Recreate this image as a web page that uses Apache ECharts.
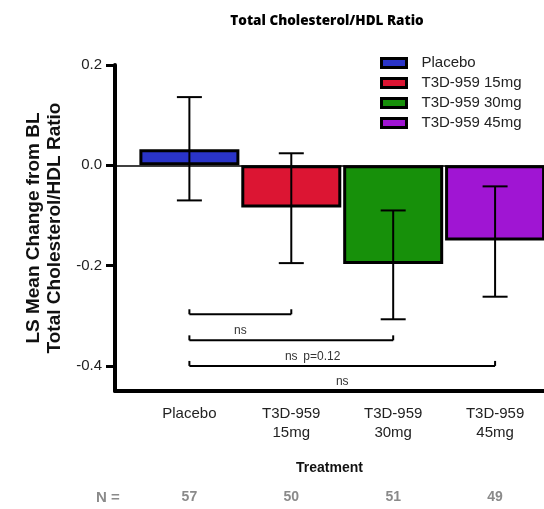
<!DOCTYPE html>
<html>
<head>
<meta charset="utf-8">
<script src="https://cdn.jsdelivr.net/npm/echarts@6/dist/echarts.min.js"></script>
<style>
  html, body { margin: 0; padding: 0; background: #fff; }
  #chart { width: 544px; height: 509px; }
</style>
</head>
<body>
<div id="chart"></div>
<script>
// Treatment groups and their LS mean change from baseline
const categories = ['Placebo', 'T3D-959\n15mg', 'T3D-959\n30mg', 'T3D-959\n45mg'];
const legendNames = ['Placebo', 'T3D-959 15mg', 'T3D-959 30mg', 'T3D-959 45mg'];
const groupPos = [1, 2, 3, 4];
const lsMean = [0.032, -0.084, -0.197, -0.150];
const errLow = [-0.070, -0.195, -0.307, -0.262];
const errHigh = [0.136, 0.024, -0.090, -0.042];
const nCounts = [57, 50, 51, 49];
const barColors = ['#2a34c8', '#dc1533', '#17900a', '#a015d3'];
const yTicks = [-0.4, -0.2, 0.0, 0.2];

// Pairwise comparisons vs placebo: [from, to, bracket level, label, note]
const cmpFrom = [1, 1, 1];
const cmpTo = [2, 3, 4];
const cmpLevel = [-0.297, -0.349, -0.400];
const cmpLabel = ['ns', 'ns', 'ns'];
const cmpNote = ['', 'p=0.12', ''];

const FONT = '"Liberation Sans", Arial, sans-serif';

const chart = echarts.init(document.getElementById('chart'), null, { renderer: 'canvas' });

const barSeries = legendNames.map((name, i) => ({
  name: name,
  type: 'bar',
  xAxisIndex: 0,
  barWidth: 100,
  barGap: '-100%',
  data: [[groupPos[i], lsMean[i]]],
  itemStyle: { color: barColors[i], borderColor: '#000', borderWidth: 3 },
  z: 2
}));

// zero reference line
barSeries[0].markLine = {
  silent: true,
  symbol: 'none',
  label: { show: false },
  lineStyle: { color: '#000', width: 1.5, type: 'solid' },
  data: [{ yAxis: 0 }],
  z: 1
};

const errorSeries = {
  type: 'custom',
  xAxisIndex: 0,
  z: 5,
  silent: true,
  data: groupPos.map((x, i) => [x, errLow[i], errHigh[i]]),
  renderItem: function (params, api) {
    const x = api.value(0);
    const lo = api.coord([x, api.value(1)]);
    const hi = api.coord([x, api.value(2)]);
    const half = 12.5;
    const style = { stroke: '#000', lineWidth: 2 };
    return {
      type: 'group',
      children: [
        { type: 'line', shape: { x1: lo[0], y1: lo[1], x2: hi[0], y2: hi[1] }, style: style },
        { type: 'line', shape: { x1: lo[0] - half, y1: lo[1], x2: lo[0] + half, y2: lo[1] }, style: style },
        { type: 'line', shape: { x1: hi[0] - half, y1: hi[1], x2: hi[0] + half, y2: hi[1] }, style: style }
      ]
    };
  }
};

const bracketSeries = {
  type: 'custom',
  xAxisIndex: 0,
  z: 5,
  silent: true,
  data: cmpFrom.map((f, i) => [f, cmpTo[i], cmpLevel[i], i]),
  renderItem: function (params, api) {
    const i = api.value(3);
    const a = api.coord([api.value(0), api.value(2)]);
    const b = api.coord([api.value(1), api.value(2)]);
    const tick = 5;
    const style = { stroke: '#000', lineWidth: 2 };
    const mid = (a[0] + b[0]) / 2;
    const children = [
      { type: 'line', shape: { x1: a[0], y1: a[1], x2: b[0], y2: b[1] }, style: style },
      { type: 'line', shape: { x1: a[0], y1: a[1], x2: a[0], y2: a[1] - tick }, style: style },
      { type: 'line', shape: { x1: b[0], y1: b[1], x2: b[0], y2: b[1] - tick }, style: style },
      { type: 'text', x: mid, y: a[1] + 16,
        style: { text: cmpLabel[i], font: '12px ' + FONT, fill: '#333', align: 'center', verticalAlign: 'middle' } }
    ];
    if (cmpNote[i]) {
      children.push({ type: 'text', x: mid + 12, y: a[1] + 16,
        style: { text: cmpNote[i], font: '12px ' + FONT, fill: '#333', align: 'left', verticalAlign: 'middle' } });
    }
    return { type: 'group', children: children };
  }
};

const option = {
  animation: false,
  backgroundColor: '#fff',
  title: {
    text: 'Total Cholesterol/HDL Ratio',
    left: 322,
    textAlign: 'center',
    top: 9,
    textStyle: { fontFamily: '"Open Sans", sans-serif', fontWeight: 800, fontSize: 13.5, color: '#000' }
  },
  legend: {
    orient: 'vertical',
    left: 375,
    top: 49,
    itemWidth: 25,
    itemHeight: 9,
    itemGap: 2,
    icon: 'rect',
    data: legendNames,
    itemStyle: { borderColor: '#000', borderWidth: 3 },
    textStyle: { fontFamily: FONT, fontSize: 15, color: '#222', lineHeight: 18, padding: [0, 0, 0, 10] }
  },
  grid: { left: 115, right: 0, top: 65, bottom: 118, containLabel: false },
  xAxis: [
    {
      type: 'value',
      min: 0.27,
      max: 4.48,
      position: 'bottom',
      name: 'Treatment',
      nameLocation: 'middle',
      nameGap: 70,
      nameTextStyle: { fontFamily: FONT, fontWeight: 'bold', fontSize: 14, color: '#111' },
      axisLine: { onZero: false, lineStyle: { color: '#000', width: 4 } },
      axisTick: { show: false },
      splitLine: { show: false },
      axisLabel: {
        customValues: groupPos,
        margin: 13,
        fontFamily: FONT,
        fontSize: 15,
        lineHeight: 19,
        color: '#222',
        formatter: function (v) { return categories[Math.round(v) - 1]; }
      }
    },
    {
      type: 'value',
      min: 0.27,
      max: 4.48,
      position: 'bottom',
      axisLine: { show: false },
      axisTick: { show: false },
      splitLine: { show: false },
      axisLabel: {
        customValues: groupPos,
        margin: 99,
        fontFamily: FONT,
        fontSize: 14,
        fontWeight: 'bold',
        color: '#8a8a8a',
        formatter: function (v) { return String(nCounts[Math.round(v) - 1]); }
      }
    }
  ],
  yAxis: {
    type: 'value',
    min: -0.45,
    max: 0.2,
    name: 'LS Mean Change from BL\nTotal Cholesterol/HDL Ratio',
    nameLocation: 'middle',
    nameGap: 48,
    nameTextStyle: { fontFamily: FONT, fontWeight: 'bold', fontSize: 19, lineHeight: 21, color: '#111' },
    axisLine: { show: true, lineStyle: { color: '#000', width: 4 } },
    axisTick: { show: true, customValues: yTicks, length: 9, lineStyle: { color: '#000', width: 3 } },
    splitLine: { show: false },
    axisLabel: {
      customValues: yTicks,
      margin: 13,
      fontFamily: FONT,
      fontSize: 15,
      color: '#222',
      formatter: function (v) { return v.toFixed(1); }
    }
  },
  graphic: [
    {
      type: 'text',
      left: 96,
      top: 490,
      style: { text: 'N =', font: 'bold 15px ' + FONT, fill: '#8a8a8a' }
    }
  ],
  series: barSeries.concat([errorSeries, bracketSeries])
};

chart.setOption(option);
</script>
</body>
</html>
